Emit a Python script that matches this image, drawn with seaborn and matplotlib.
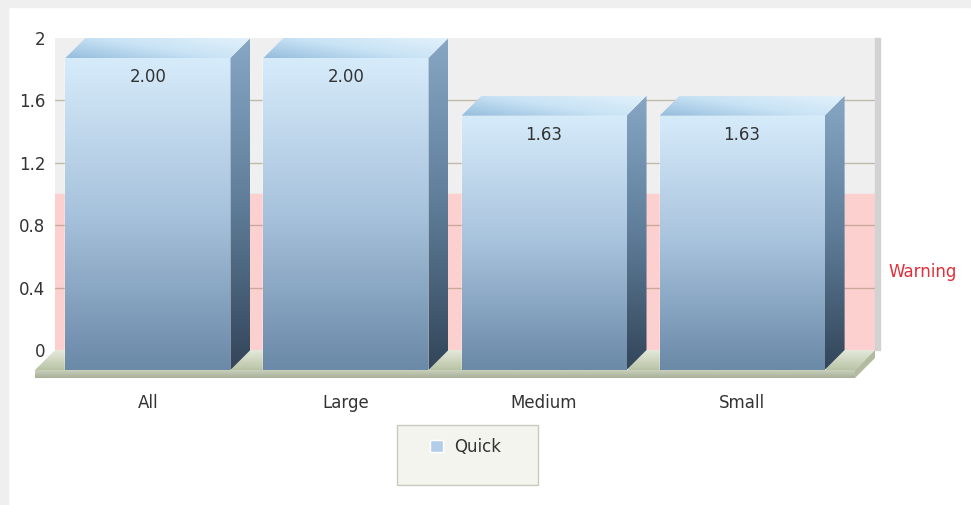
import numpy as np
import matplotlib
matplotlib.use("Agg")
import matplotlib.pyplot as plt
import seaborn as sns
from matplotlib.colors import LinearSegmentedColormap
from matplotlib.patches import Polygon, Rectangle
from matplotlib.transforms import blended_transform_factory

# --- data -------------------------------------------------------------
categories = ["All", "Large", "Medium", "Small"]
quick_values = [2.00, 2.00, 1.63, 1.63]
series_name = "Quick"
y_ticks = [0, 0.4, 0.8, 1.2, 1.6, 2]
y_tick_labels = ["0", "0.4", "0.8", "1.2", "1.6", "2"]
warning_zone = (0, 1)
warning_label = "Warning"

# --- style -------------------------------------------------------------
sns.set_style("white")
plt.rcParams["font.family"] = ["DejaVu Sans"]
FS = 12
TXT = "#333333"
W, H = 971, 505
DEPTH = 20  # 3-D depth in pixels

fig = plt.figure(figsize=(W / 100, H / 100), dpi=100, facecolor="white")
fig.patches.append(Rectangle((0, 0), 8 / W, 1, transform=fig.transFigure,
                             color="#efefef", zorder=0))
fig.patches.append(Rectangle((0, 1 - 7 / H), 1, 7 / H, transform=fig.transFigure,
                             color="#efefef", zorder=0))


def box(left, top, right, bottom):
    return [left / W, 1 - bottom / H, (right - left) / W, (bottom - top) / H]


# back wall axes (offset up/right by the depth) and front bar axes
ax_b = fig.add_axes(box(35 + DEPTH, 58 - DEPTH, 855 + DEPTH, 370 - DEPTH), zorder=0)
ax = fig.add_axes(box(35, 58, 855, 370), zorder=1)
XLIM = (-0.57, 3.57)
for a in (ax_b, ax):
    a.set_xlim(*XLIM)
    a.set_ylim(0, 2)
    for s in a.spines.values():
        s.set_visible(False)

# back wall
ax_b.set_facecolor("#efefef")
ax_b.axhspan(warning_zone[0], warning_zone[1], color="#fdd0d0", zorder=0)
for t in y_ticks[1:-1]:
    ax_b.axhline(t, color="#8c7a5a", alpha=0.45, lw=1, zorder=1)
ax_b.add_patch(Rectangle((1.0, 0), 5 / 820, 1, transform=ax_b.transAxes,
                         color="#d2d2d2", clip_on=False, zorder=1))
ax_b.set_xticks([])
ax_b.set_yticks(y_ticks)
ax_b.set_yticklabels(y_tick_labels)
ax_b.tick_params(axis="y", length=0, pad=7, labelsize=FS, labelcolor=TXT)
ax_b.annotate(warning_label, xy=(1, np.mean(warning_zone)),
              xycoords=blended_transform_factory(ax_b.transAxes, ax_b.transData),
              xytext=(13, 0), textcoords="offset pixels", ha="left", va="center",
              fontsize=FS, color="#e0303a")

# bars
ax.patch.set_alpha(0)
sns.barplot(x=categories, y=quick_values, color="#a9cdf0", width=0.833,
            label=series_name, ax=ax, zorder=2)
ax.set_xlim(*XLIM)
ax.set_ylim(0, 2)
ax.set_ylabel("")
ax.set_yticks([])
ax.tick_params(axis="x", length=0, pad=17, labelsize=FS, labelcolor=TXT)

# depth offsets expressed in data units
p0 = ax.transData.transform((0, 0))
p1 = ax.transData.transform((1, 1))
dx = DEPTH / (p1[0] - p0[0])
dy = DEPTH / (p1[1] - p0[1])


def shade(verts, colors, mode="v", z=2.5):
    verts = np.asarray(verts)
    poly = Polygon(verts, closed=True, transform=ax.transData, fc="none", ec="none")
    n = 64
    gx, gy = np.meshgrid(np.linspace(0, 1, n), np.linspace(0, 1, n))
    if mode == "v":
        g = gy
    elif mode == "h":
        g = gx
    else:
        g = 0.6 * gx + 0.4 * gy
    cmap = LinearSegmentedColormap.from_list("shade", colors)
    im = ax.imshow(g, extent=[verts[:, 0].min(), verts[:, 0].max(),
                              verts[:, 1].min(), verts[:, 1].max()],
                   origin="lower", aspect="auto", cmap=cmap, vmin=0, vmax=1,
                   interpolation="bilinear", zorder=z)
    im.set_clip_path(poly)
    im.set_clip_box(fig.bbox)
    return im


# floor
x0f, x1f = XLIM
shade([(x0f, 0), (x1f, 0), (x1f + dx, dy), (x0f + dx, dy)],
      ["#b9c4a6", "#e4e9da"], "v", z=1.0)
thick = 8 * dy / DEPTH
shade([(x0f, -thick), (x1f, -thick), (x1f, 0), (x0f, 0)],
      ["#a7b098", "#c9d0bd"], "v", z=1.0)
ax.add_patch(Polygon([(x1f, -thick), (x1f + dx, dy - thick), (x1f + dx, dy), (x1f, 0)],
                     closed=True, fc="#b2ba9f", ec="none", clip_on=False, zorder=1.0))

# 3-D bars: front, side and top faces
bars = [p for p in ax.patches if isinstance(p, Rectangle)][:len(categories)]
for bar, val in zip(bars, quick_values):
    bx, bw, bh = bar.get_x(), bar.get_width(), bar.get_height()
    bar.set_zorder(2)
    shade([(bx, 0), (bx + bw, 0), (bx + bw, bh), (bx, bh)],
          ["#6b8aa8", "#a7c2dc", "#d6ebfa"], "v", z=2.5)
    shade([(bx + bw, 0), (bx + bw + dx, dy), (bx + bw + dx, bh + dy), (bx + bw, bh)],
          ["#33465a", "#5f7d99", "#86a6c4"], "v", z=2.5)
    shade([(bx, bh), (bx + bw, bh), (bx + bw + dx, bh + dy), (bx + dx, bh + dy)],
          ["#95bddd", "#c9e3f5", "#e2f1fb"], "d", z=2.5)
    ax.annotate(f"{val:.2f}", xy=(bx + bw / 2, val), xytext=(0, -19),
                textcoords="offset pixels", ha="center", va="center",
                fontsize=FS, color=TXT, zorder=4)

ax.set_xlim(*XLIM)
ax.set_ylim(0, 2)

# legend box
fig.patches.append(Rectangle((397 / W, 1 - 485 / H), 141 / W, 60 / H,
                             transform=fig.transFigure, fc="#f4f4ef", ec="#c9c9c0",
                             lw=1, zorder=0.5))
handles, labels = ax.get_legend_handles_labels()
leg = fig.legend(handles[:1], labels[:1], loc="center left",
                 bbox_to_anchor=(422 / W, 1 - 447 / H), frameon=False,
                 borderpad=0, handlelength=0.75, handleheight=0.75,
                 handletextpad=0.65, fontsize=FS, labelcolor=TXT)
if ax.get_legend() is not None:
    ax.get_legend().remove()

fig.savefig("out.png", dpi=100, facecolor="white")
